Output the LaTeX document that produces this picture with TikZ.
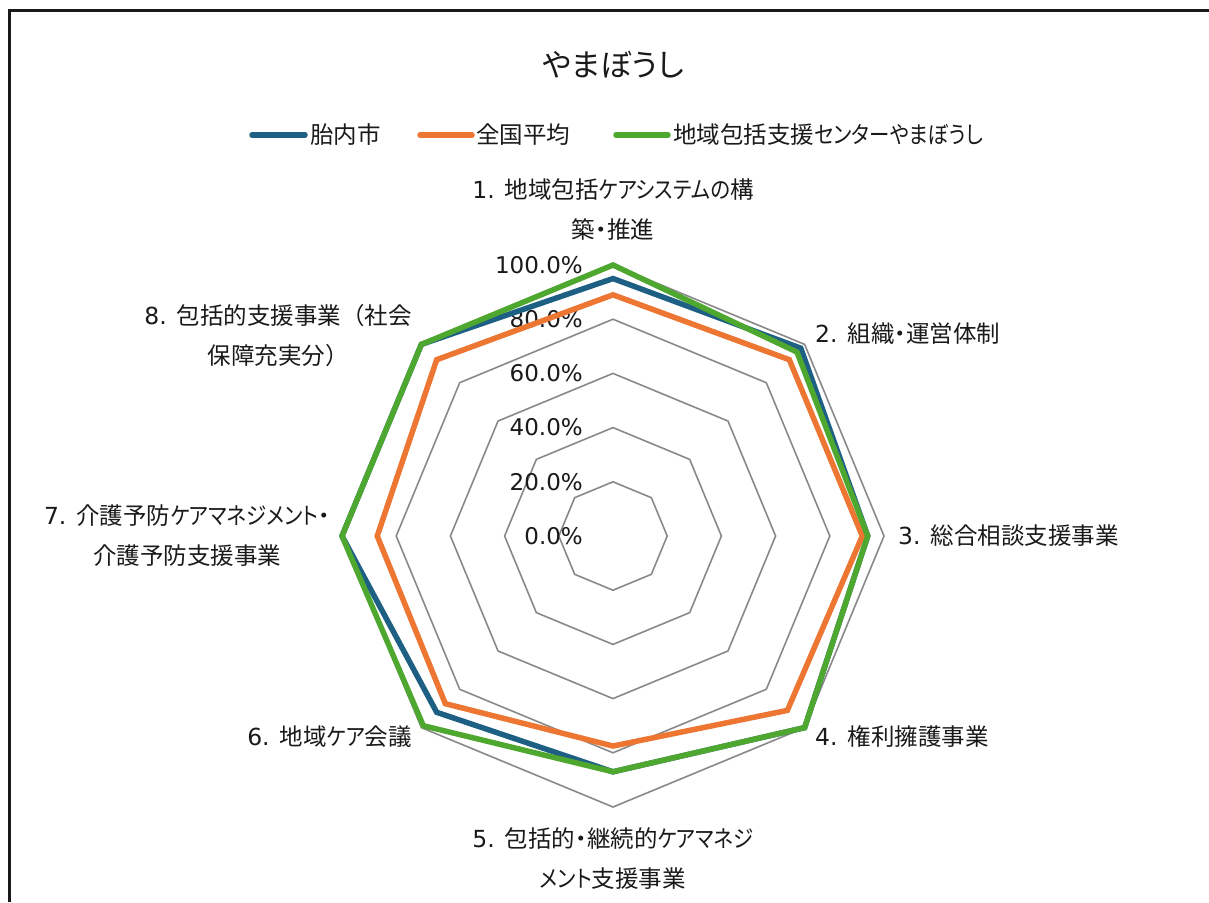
\documentclass[tikz,border=0pt]{standalone}
\usepackage{fontspec}
\setmainfont{Noto Sans CJK JP}[RawFeature=+palt]
\newfontfamily\fwfont{Noto Sans CJK JP}
\newfontfamily\knfont{Noto Sans CJK JP}[RawFeature=+palt, FakeStretch=0.87]
\newfontfamily\latfont{DejaVu Sans}
\newcommand{\nm}[1]{{\latfont #1}}
\newcommand{\fw}[1]{{\fwfont #1}}
\newcommand{\kn}[1]{{\knfont #1}}
\definecolor{cblue}{HTML}{1E6084}
\definecolor{corange}{HTML}{ED7633}
\definecolor{cgreen}{HTML}{4EA72E}
\definecolor{cgrid}{HTML}{898989}
\definecolor{ctext}{HTML}{1A1A1A}
\tikzset{
  gridline/.style={draw=cgrid, line width=1.6pt, line join=miter},
  series/.style={line width=5.5pt, line join=miter, miter limit=4},
  lab/.style={text=ctext, font=\fontsize{23.5}{40}\selectfont, inner sep=0pt, align=center},
  axlab/.style={text=ctext, font=\latfont\fontsize{23}{26}\selectfont, inner sep=0pt, anchor=east},
  legline/.style={line width=5.5pt, line cap=round},
  legtext/.style={text=ctext, font=\fontsize{23.5}{26}\selectfont, inner sep=0pt, anchor=west},
}
\begin{document}
\begin{tikzpicture}[x=1pt,y=-1pt]
\useasboundingbox (0,0) rectangle (1209,902);
\fill[white] (0,0) rectangle (1209,902);
% frame (extends beyond right and bottom)
\draw[line width=2.2pt, draw=ctext] (9.5,902) -- (9.5,10.5) -- (1209,10.5);
% title
\node[text=ctext, font=\fontsize{31}{36}\selectfont, inner sep=0pt] (title) at (613,65) {やまぼうし};
% legend
\coordinate (lb1) at (252,135); \coordinate (lb2) at (305,135);
\draw[legline, cblue] (lb1) -- (lb2);
\node[legtext] (tb) at (310,135) {胎内市};
\coordinate (lo1) at (420,135); \coordinate (lo2) at (472,135);
\draw[legline, corange] (lo1) -- (lo2);
\node[legtext] (to) at (476,135) {全国平均};
\coordinate (lg1) at (616,135); \coordinate (lg2) at (668,135);
\draw[legline, cgreen] (lg1) -- (lg2);
\node[legtext] (tg) at (673,135) {地域包括支援\kn{センターやまぼうし}};
% grid
\foreach \k in {1,...,5}{
  \foreach \i in {1,...,8}{
    \coordinate (g\k-\i) at ({613+54.2*\k*cos(90-45*(\i-1))},{536-54.2*\k*sin(90-45*(\i-1))});
  }
  \draw[gridline] (g\k-1) -- (g\k-2) -- (g\k-3) -- (g\k-4) -- (g\k-5) -- (g\k-6) -- (g\k-7) -- (g\k-8) -- cycle;
}
% axis labels
\node[axlab] (a0) at (583,536) {0.0\%};
\node[axlab] (a20) at (583,481.8) {20.0\%};
\node[axlab] (a40) at (583,427.6) {40.0\%};
\node[axlab] (a60) at (583,373.4) {60.0\%};
\node[axlab] (a80) at (583,319.2) {80.0\%};
\node[axlab] (a100) at (583,265) {100.0\%};
% data
\foreach \v [count=\i] in {95,98,94,100,87,92,100,100}{
  \coordinate (b\i) at ({613+2.71*\v*cos(90-45*(\i-1))},{536-2.71*\v*sin(90-45*(\i-1))});
}
\foreach \v [count=\i] in {89,92,92,91,77.5,87.5,87,92}{
  \coordinate (o\i) at ({613+2.71*\v*cos(90-45*(\i-1))},{536-2.71*\v*sin(90-45*(\i-1))});
}
\foreach \v [count=\i] in {100,96,94,100,87,99,100,100}{
  \coordinate (n\i) at ({613+2.71*\v*cos(90-45*(\i-1))},{536-2.71*\v*sin(90-45*(\i-1))});
}
\draw[series, cblue] (b1) -- (b2) -- (b3) -- (b4) -- (b5) -- (b6) -- (b7) -- (b8) -- cycle;
\draw[series, corange] (o1) -- (o2) -- (o3) -- (o4) -- (o5) -- (o6) -- (o7) -- (o8) -- cycle;
\draw[series, cgreen] (n1) -- (n2) -- (n3) -- (n4) -- (n5) -- (n6) -- (n7) -- (n8) -- cycle;
% category labels
\node[lab] (c1) at (613,210) {\nm{1. }地域包括\kn{ケアシステムの}構\\築・推進};
\node[lab, anchor=west] (c2) at (815,334) {\nm{2. }組織・運営体制};
\node[lab, anchor=west] (c3) at (898,536) {\nm{3. }総合相談支援事業};
\node[lab, anchor=west] (c4) at (815,737) {\nm{4. }権利擁護事業};
\node[lab] (c5) at (613,859) {\nm{5. }包括的・継続的\kn{ケアマネジ}\\\kn{メント}支援事業};
\node[lab, anchor=east] (c6) at (412,737) {\nm{6. }地域\kn{ケア}会議};
\node[lab] (c7) at (187,535.5) {\nm{7. }介護予防\kn{ケアマネジメント}・\\介護予防支援事業};
\node[lab] (c8) at (278,335.5) {\nm{8. }包括的支援事業\fw{（}社会\\保障充実分\fw{）}};
\end{tikzpicture}
\end{document}
